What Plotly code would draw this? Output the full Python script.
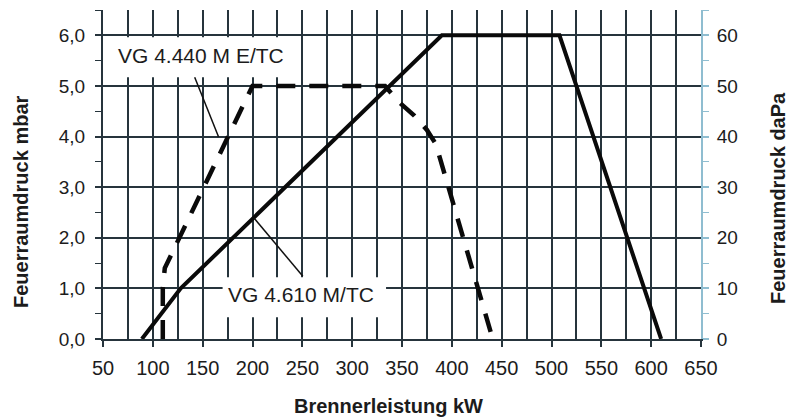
import plotly.graph_objects as go

# ---- data ----
kw_4610 = [89, 128, 390, 508, 610]
mbar_4610 = [0.0, 1.0, 6.0, 6.0, 0.0]

kw_4440 = [110, 110, 112, 200, 333, 347, 362, 375, 384, 441]
mbar_4440 = [0.0, 1.0, 1.4, 5.0, 5.0, 4.68, 4.42, 4.13, 3.85, 0.0]

x_ticks = [50, 100, 150, 200, 250, 300, 350, 400, 450, 500, 550, 600, 650]
y_ticks = [0, 1, 2, 3, 4, 5, 6]
y_ticktext = ["0,0", "1,0", "2,0", "3,0", "4,0", "5,0", "6,0"]
y2_ticks = [0, 10, 20, 30, 40, 50, 60]

label_4440 = "VG 4.440 M E/TC"
label_4610 = "VG 4.610 M/TC"

FONT = "Liberation Sans, Arial, sans-serif"
DARK = "#1c1c1c"
GRID = "#26343c"
BLUE = "#8fbdd0"

fig = go.Figure()
fig.add_trace(go.Scatter(x=kw_4610, y=mbar_4610, mode="lines",
                         line=dict(color="#0a0a0a", width=4), showlegend=False,
                         hoverinfo="skip"))
fig.add_trace(go.Scatter(x=kw_4440, y=mbar_4440, mode="lines",
                         line=dict(color="#0a0a0a", width=4.5, dash="19px,14px"),
                         showlegend=False, hoverinfo="skip"))
# invisible trace to activate the right axis
fig.add_trace(go.Scatter(x=[50], y=[0], yaxis="y2", mode="markers",
                         marker=dict(opacity=0), showlegend=False, hoverinfo="skip"))

# the page body has an 8px margin, so the figure is 8px smaller and shifted
fig.update_layout(
    width=792, height=410,
    margin=dict(l=95, r=99, t=2, b=79, autoexpand=False),
    paper_bgcolor="white", plot_bgcolor="white",
    font=dict(family=FONT, size=19, color=DARK),
    xaxis=dict(range=[50, 650], tickvals=x_ticks, showgrid=True, gridcolor=GRID,
               gridwidth=1.7, ticks="outside", ticklen=6, tickcolor=GRID, tickwidth=1.5,
               showline=True, linecolor=GRID, linewidth=2, zeroline=False,
               tickfont=dict(size=20), ticklabelstandoff=4, automargin=False,
               minor=dict(dtick=25, showgrid=True, gridcolor=GRID, gridwidth=1.7,
                          ticks="")),
    yaxis=dict(range=[0, 6.5], tickvals=y_ticks, ticktext=y_ticktext, showgrid=True,
               gridcolor=GRID, gridwidth=1.7, ticks="outside", ticklen=6,
               tickcolor=GRID, tickwidth=1.5, showline=True, linecolor=GRID,
               linewidth=2, zeroline=False, tickfont=dict(size=19),
               ticklabelstandoff=6, automargin=False,
               minor=dict(dtick=0.5, ticks="outside", ticklen=6, tickcolor=GRID,
                          tickwidth=1.2, showgrid=False)),
    yaxis2=dict(range=[0, 65], tickvals=y2_ticks, overlaying="y", side="right",
                showgrid=False, ticks="outside", ticklen=6, tickcolor=BLUE,
                tickwidth=1.5, showline=True, linecolor=BLUE, linewidth=2,
                zeroline=False, tickfont=dict(size=19), ticklabelstandoff=4,
                automargin=False,
                minor=dict(dtick=5, ticks="outside", ticklen=6, tickcolor=BLUE,
                           tickwidth=1.2)),
)

# white label boxes and leader lines
fig.add_shape(type="rect", xref="x", yref="y", x0=58, x1=242, y0=5.17, y1=5.96,
              fillcolor="white", line=dict(width=0), layer="above")
fig.add_shape(type="rect", xref="x", yref="y", x0=170, x1=334, y0=0.43, y1=1.22,
              fillcolor="white", line=dict(width=0), layer="above")
fig.add_shape(type="line", xref="x", yref="y", x0=142, y0=5.17, x1=166, y1=3.99,
              line=dict(color="#111", width=1.5), layer="above")
fig.add_shape(type="line", xref="x", yref="y", x0=201.5, y0=2.39, x1=250.5, y1=1.24,
              line=dict(color="#111", width=1.5), layer="above")

fig.add_annotation(x=148.5, y=5.6, xref="x", yref="y", text=label_4440,
                   showarrow=False, font=dict(size=21, color=DARK))
fig.add_annotation(x=249, y=0.87, xref="x", yref="y", text=label_4610,
                   showarrow=False, font=dict(size=21, color=DARK))

# axis titles
fig.add_annotation(x=0, y=0.4164, xref="paper", yref="paper", xshift=-82,
                   xanchor="center", yanchor="middle",
                   text="<b>Feuerraumdruck mbar</b>", textangle=-90, showarrow=False,
                   font=dict(size=20, color=DARK))
fig.add_annotation(x=1, y=0.4286, xref="paper", yref="paper", xshift=77,
                   xanchor="center", yanchor="middle",
                   text="<b>Feuerraumdruck daPa</b>", textangle=-90, showarrow=False,
                   font=dict(size=20, color=DARK))
fig.add_annotation(x=0.478, y=-0.2036, xref="paper", yref="paper",
                   xanchor="center", yanchor="middle",
                   text="<b>Brennerleistung kW</b>", showarrow=False,
                   font=dict(size=20, color=DARK))

fig.write_html("out.html")
